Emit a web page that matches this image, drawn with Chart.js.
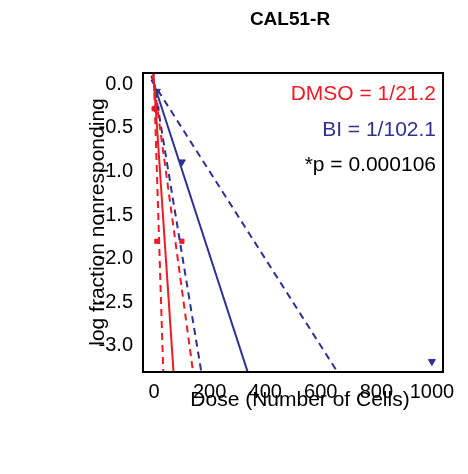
<!DOCTYPE html><html><head><style>body{margin:0;background:#fff}#w{width:468px;height:474px}</style>
<script src="https://cdn.jsdelivr.net/npm/chart.js@4"></script></head><body><div id="w"><canvas id="c"></canvas></div><script>
const dmsoPts=[{x:0,y:-0.28},{x:10,y:-0.28},{x:10,y:-1.8},{x:100,y:-1.8}];
const biPts=[{x:10,y:-0.08},{x:100,y:-0.89},{x:1000,y:-3.18}];
const dmsoRate=21.2, dmsoLo=10, dmsoHi=42.5;
const biRate=102.1, biLo=51.5, biHi=200;
const xTicks=[0,200,400,600,800,1000];
const yTicks=[0,-0.5,-1,-1.5,-2,-2.5,-3];
const RED='#ee1c25', BLUE='#2e3192';
const F='Arial, "Liberation Sans"';
function line(rate,color,dash){return {type:'line',data:[{x:-10,y:10/rate},{x:rate*3.6,y:-3.6}],borderColor:color,borderWidth:2,borderDash:dash,pointRadius:0,fill:false};}
const deco={id:'deco',afterDraw(ch){const c=ch.ctx;c.save();c.textBaseline='middle';
c.font='bold 19px '+F;c.fillStyle='#000';c.textAlign='center';c.fillText('CAL51-R',290,20);
c.font='21px '+F;c.fillText('Dose (Number of Cells)',300,400);
c.save();c.translate(98,222);c.rotate(-Math.PI/2);c.fillText('log fraction nonresponding',0,0);c.restore();
c.textAlign='right';c.font='21px '+F;
c.fillStyle=RED;c.fillText('DMSO = 1/21.2',436,94);
c.fillStyle=BLUE;c.fillText('BI = 1/102.1',436,130);
c.fillStyle='#000';c.fillText('*p = 0.000106',436,165);c.restore();}};
new Chart(document.getElementById('c'),{type:'scatter',data:{datasets:[
line(dmsoRate,RED,[]),line(dmsoLo,RED,[7,5]),line(dmsoHi,RED,[7,5]),
line(biRate,BLUE,[]),line(biLo,BLUE,[7,5]),line(biHi,BLUE,[7,5]),
{data:dmsoPts,pointStyle:'rect',pointRadius:3,backgroundColor:RED,borderColor:RED},
{data:biPts,pointStyle:'triangle',rotation:180,pointRadius:4,backgroundColor:BLUE,borderColor:BLUE}]},
options:{responsive:true,maintainAspectRatio:false,animation:false,layout:{padding:{top:73,right:25}},
plugins:{legend:{display:false},tooltip:{enabled:false}},
scales:{x:{type:'linear',min:-40,max:1040,afterBuildTicks:a=>{a.ticks=xTicks.map(v=>({value:v}))},afterFit:a=>{a.height=102},
grid:{display:false,drawTicks:true,tickLength:6,tickColor:'#000'},border:{color:'#000',width:2},
ticks:{color:'#000',font:{size:20,family:F},padding:2,maxRotation:0,callback:v=>String(v)}},
y:{min:-3.3,max:0.13,afterBuildTicks:a=>{a.ticks=yTicks.map(v=>({value:v}))},afterFit:a=>{a.width=143},
grid:{display:false,tickLength:6,tickColor:'#000'},border:{color:'#000',width:2},
ticks:{color:'#000',font:{size:20,family:F},padding:4,callback:v=>v.toFixed(1)}}}},
plugins:[deco,{id:'box',afterDraw(ch){const a=ch.chartArea,c=ch.ctx;c.save();c.strokeStyle='#000';c.lineWidth=2;c.strokeRect(a.left,a.top,a.right-a.left,a.bottom-a.top);c.restore();}}]});
</script></body></html>
